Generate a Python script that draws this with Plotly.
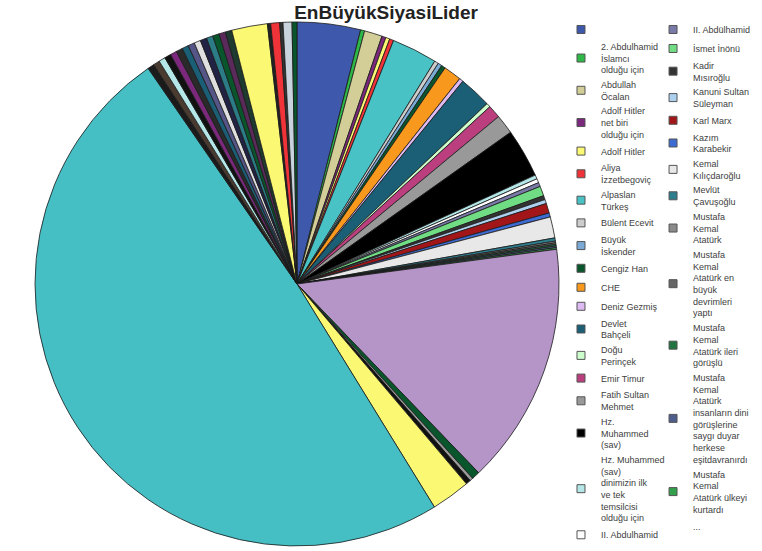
import plotly.graph_objects as go

# ---------------- data (clockwise from 12 o'clock) ----------------
categories = [
    "", "2. Abdulhamid İslamcı olduğu için", "Abdullah Öcalan",
    "Adolf Hitler net biri olduğu için", "Adolf Hitler", "Aliya İzzetbegoviç",
    "Alpaslan Türkeş", "Bülent Ecevit", "Büyük İskender", "Cengiz Han", "CHE",
    "Deniz Gezmiş", "Devlet Bahçeli", "Doğu Perinçek", "Emir Timur",
    "Fatih Sultan Mehmet", "Hz. Muhammed (sav)",
    "Hz. Muhammed (sav) dinimizin ilk ve tek temsilcisi olduğu için",
    "II. Abdulhamid", "II. Abdülhamid", "İsmet İnönü", "Kadir Mısıroğlu",
    "Kanuni Sultan Süleyman", "Karl Marx", "Kazım Karabekir",
    "Kemal Kılıçdaroğlu", "Mevlüt Çavuşoğlu", "Mustafa Kemal Atatürk",
    "Mustafa Kemal Atatürk en büyük devrimleri yaptı",
    "Mustafa Kemal Atatürk ileri görüşlü",
    "Mustafa Kemal Atatürk insanların dini görüşlerine saygı duyar herkese eşitdavranırdı",
    "Mustafa Kemal Atatürk ülkeyi kurtardı",
] + ["Diğer %d" % i for i in range(33, 59)]

values = [
    3.9, 0.25, 1.1, 0.25, 0.25, 0.25, 2.8, 0.25, 0.25, 0.25, 1.1, 0.25, 2.0,
    0.25, 0.8, 1.2, 3.0, 0.25, 0.25, 0.25, 0.6, 0.25, 0.25, 0.6, 0.25, 1.3,
    0.2, 0.1, 0.1, 0.1, 0.1, 0.1,
    14.9, 0.5, 0.2, 0.3, 2.4, 49.1,
    0.4, 0.4, 0.4, 0.4, 0.4, 0.4, 0.4, 0.4, 0.4, 0.4, 0.4, 0.4, 0.4, 0.4,
    2.2, 0.2, 0.55, 0.2, 0.55, 0.3,
]

colors = [
    "#3E58AC", "#2EB848", "#D3CE97", "#7C287D", "#FBF873", "#EF3338",
    "#48C2C5", "#CCCCCC", "#7AAAD5", "#0A562C", "#F8981D", "#DDBAF1",
    "#1A5F76", "#CCFFCC", "#BB3F7F", "#999999", "#000000", "#B6E7E8",
    "#FFFFFF", "#797AA7", "#70DC84", "#333333", "#ACD0EE", "#A21619",
    "#3D6BD1", "#E8E8E8", "#2E7D8C", "#8A8A8A", "#666666", "#21733F",
    "#4E5E8C", "#33A04C",
    "#B594C8", "#0A562C", "#999999", "#111111", "#FBF873", "#45BEC4",
    "#1B1B1B", "#4A3B30", "#B6E7E8", "#111111", "#7C287D", "#2A2A2A",
    "#1A5F76", "#555588", "#E0E0E0", "#222244", "#2B7C86", "#0A562C",
    "#5A2A5A", "#1F3A2F",
    "#FBF873", "#222222", "#EF3338", "#333333", "#C9D3DE", "#0A562C",
]

legend_text = [
    " ", "2. Abdulhamid<br>İslamcı<br>olduğu için", "Abdullah<br>Öcalan",
    "Adolf Hitler<br>net biri<br>olduğu için", "Adolf Hitler",
    "Aliya<br>İzzetbegoviç", "Alpaslan<br>Türkeş", "Bülent Ecevit",
    "Büyük<br>İskender", "Cengiz Han", "CHE", "Deniz Gezmiş",
    "Devlet<br>Bahçeli", "Doğu<br>Perinçek", "Emir Timur",
    "Fatih Sultan<br>Mehmet", "Hz.<br>Muhammed<br>(sav)",
    "Hz. Muhammed<br>(sav)<br>dinimizin ilk<br>ve tek<br>temsilcisi<br>olduğu için",
    "II. Abdulhamid",
    "II. Abdülhamid", "İsmet İnönü", "Kadir<br>Mısıroğlu",
    "Kanuni Sultan<br>Süleyman", "Karl Marx", "Kazım<br>Karabekir",
    "Kemal<br>Kılıçdaroğlu", "Mevlüt<br>Çavuşoğlu",
    "Mustafa<br>Kemal<br>Atatürk",
    "Mustafa<br>Kemal<br>Atatürk en<br>büyük<br>devrimleri<br>yaptı",
    "Mustafa<br>Kemal<br>Atatürk ileri<br>görüşlü",
    "Mustafa<br>Kemal<br>Atatürk<br>insanların dini<br>görüşlerine<br>saygı duyar<br>herkese<br>eşitdavranırdı",
    "Mustafa<br>Kemal<br>Atatürk ülkeyi<br>kurtardı",
]
legend_split = 19
title_text = "EnBüyükSiyasiLider"

# ---------------- figure ----------------
FONT = "Arial, Liberation Sans, sans-serif"
fig = go.Figure()
fig.add_trace(go.Pie(
    labels=categories, values=values, sort=False, direction="clockwise",
    rotation=0, textinfo="none", showlegend=False,
    marker=dict(colors=colors, line=dict(color="#1a1a1a", width=0.8)),
    domain=dict(x=[0.0459, 0.7336], y=[0.0091, 0.9601]),
))

for i, name in enumerate(legend_text):
    fig.add_trace(go.Scatter(
        x=[None], y=[None], mode="markers", name=name,
        marker=dict(symbol="square", size=8, color=colors[i],
                    line=dict(color="#555555", width=1)),
        legend="legend" if i < legend_split else "legend2",
        hoverinfo="skip",
    ))
fig.add_trace(go.Scatter(
    x=[None], y=[None], mode="markers", name="...",
    marker=dict(symbol="square", size=8, color="rgba(0,0,0,0)",
                line=dict(color="rgba(0,0,0,0)", width=0)),
    legend="legend2", hoverinfo="skip",
))

legend_common = dict(
    xanchor="left", yanchor="top", tracegroupgap=0, itemwidth=30,
    bgcolor="rgba(0,0,0,0)", font=dict(family=FONT, size=9, color="#404040"),
    itemclick=False, itemdoubleclick=False,
)
fig.update_layout(
    width=762, height=551, margin=dict(l=0, r=0, t=0, b=0),
    paper_bgcolor="white", plot_bgcolor="white",
    title=dict(text="<b>%s</b>" % title_text, x=0.5066, y=0.978,
               xanchor="center", yanchor="middle",
               font=dict(family=FONT, size=19, color="#222222")),
    xaxis=dict(visible=False), yaxis=dict(visible=False),
    legend=dict(x=0.7362, y=0.9728, **legend_common),
    legend2=dict(x=0.857, y=0.9728, **legend_common),
)
fig.write_html("out.html", config={"displayModeBar": False},
               post_script="document.body.style.margin='0';")
